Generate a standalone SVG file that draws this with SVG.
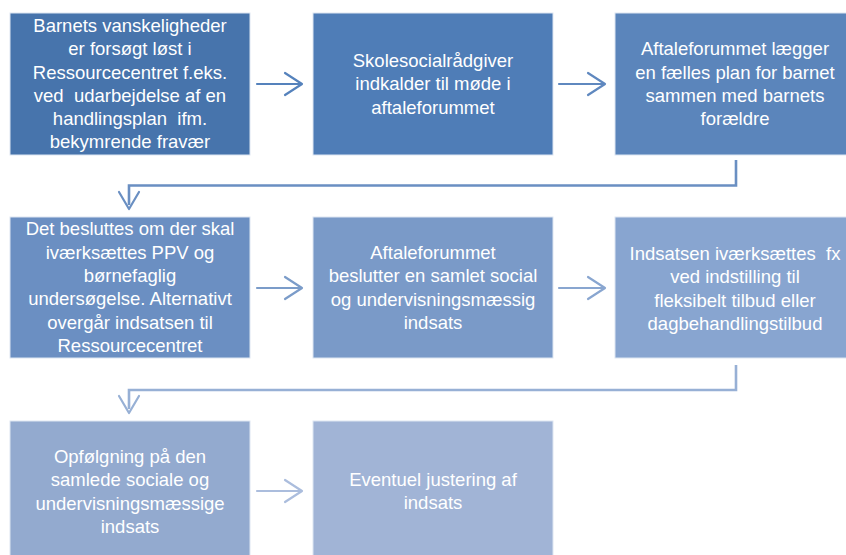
<svg xmlns="http://www.w3.org/2000/svg" width="846" height="555" viewBox="0 0 846 555">
<style>
.box{stroke:#dde6f2;stroke-width:1}
.t{font-family:"Liberation Sans",Arial,sans-serif;font-size:18.5px;fill:#ffffff;text-anchor:middle;white-space:pre}
.ar{fill:none;stroke-width:2.2;stroke-linecap:round;stroke-linejoin:round}
.cn{fill:none;stroke-width:2.6;stroke-linejoin:miter}
</style>
<rect width="846" height="555" fill="#ffffff"/>
<g id="connectors">
  <g class="ar" stroke="#5582bc"><path d="M257 84 H301"/><path d="M285 73 L302 84 L285 95"/></g>
  <g class="ar" stroke="#5f88bf"><path d="M559 84 H604"/><path d="M588 73 L605 84 L588 95"/></g>
  <g stroke="#6a8fc2"><path class="cn" d="M736 160 V185.5 H129 V205"/><path class="ar" d="M119 192 L129 209 L139 192"/></g>
  <g class="ar" stroke="#7b9cc9"><path d="M257 288 H301"/><path d="M285 277 L302 288 L285 299"/></g>
  <g class="ar" stroke="#89a6d0"><path d="M559 288 H604"/><path d="M588 277 L605 288 L588 299"/></g>
  <g stroke="#97b0d5"><path class="cn" d="M736 365 V390 H129 V409"/><path class="ar" d="M119 396 L129 413 L139 396"/></g>
  <g class="ar" stroke="#abbddd"><path d="M257 491 H301"/><path d="M285 480 L302 491 L285 502"/></g>
</g>
<g id="n1"><rect class="box" x="10" y="13" width="240" height="142" fill="#4774ac"/>
<text class="t" xml:space="preserve"><tspan x="130" y="32">Barnets vanskeligheder</tspan><tspan x="130" y="55">er forsøgt løst i</tspan><tspan x="130" y="78.5">Ressourcecentret f.eks.</tspan><tspan x="130" y="101.5">ved  udarbejdelse af en</tspan><tspan x="130" y="124.5">handlingsplan  ifm.</tspan><tspan x="130" y="148">bekymrende fravær</tspan></text></g>
<g id="n2"><rect class="box" x="313" y="13" width="240" height="142" fill="#4f7db7"/>
<text class="t"><tspan x="433" y="67">Skolesocialrådgiver</tspan><tspan x="433" y="90">indkalder til møde i</tspan><tspan x="433" y="113.5">aftaleforummet</tspan></text></g>
<g id="n3"><rect class="box" x="615" y="13" width="240" height="142" fill="#5b85bb"/>
<text class="t"><tspan x="735" y="55">Aftaleforummet lægger</tspan><tspan x="735" y="78.5">en fælles plan for barnet</tspan><tspan x="735" y="101.5">sammen med barnets</tspan><tspan x="735" y="125">forældre</tspan></text></g>
<g id="n4"><rect class="box" x="10" y="217" width="240" height="141" fill="#6b8fc2"/>
<text class="t"><tspan x="130" y="235">Det besluttes om der skal</tspan><tspan x="130" y="258.5">iværksættes PPV og</tspan><tspan x="130" y="282">børnefaglig</tspan><tspan x="130" y="305">undersøgelse. Alternativt</tspan><tspan x="130" y="328.5">overgår indsatsen til</tspan><tspan x="130" y="351.5">Ressourcecentret</tspan></text></g>
<g id="n5"><rect class="box" x="313" y="217" width="240" height="141" fill="#7a9ac8"/>
<text class="t"><tspan x="433" y="259">Aftaleforummet</tspan><tspan x="433" y="282">beslutter en samlet social</tspan><tspan x="433" y="305.5">og undervisningsmæssig</tspan><tspan x="433" y="328.5">indsats</tspan></text></g>
<g id="n6"><rect class="box" x="615" y="217" width="240" height="141" fill="#88a5d0"/>
<text class="t" xml:space="preserve"><tspan x="735" y="260">Indsatsen iværksættes  fx</tspan><tspan x="735" y="283">ved indstilling til</tspan><tspan x="735" y="306.5">fleksibelt tilbud eller</tspan><tspan x="735" y="330">dagbehandlingstilbud</tspan></text></g>
<g id="n7"><rect class="box" x="10" y="421" width="240" height="141" fill="#93aacf"/>
<text class="t"><tspan x="130" y="463">Opfølgning på den</tspan><tspan x="130" y="486">samlede sociale og</tspan><tspan x="130" y="509.5">undervisningsmæssige</tspan><tspan x="130" y="532.5">indsats</tspan></text></g>
<g id="n8"><rect class="box" x="313" y="421" width="240" height="141" fill="#a1b4d6"/>
<text class="t"><tspan x="433" y="486">Eventuel justering af</tspan><tspan x="433" y="509">indsats</tspan></text></g>
</svg>
